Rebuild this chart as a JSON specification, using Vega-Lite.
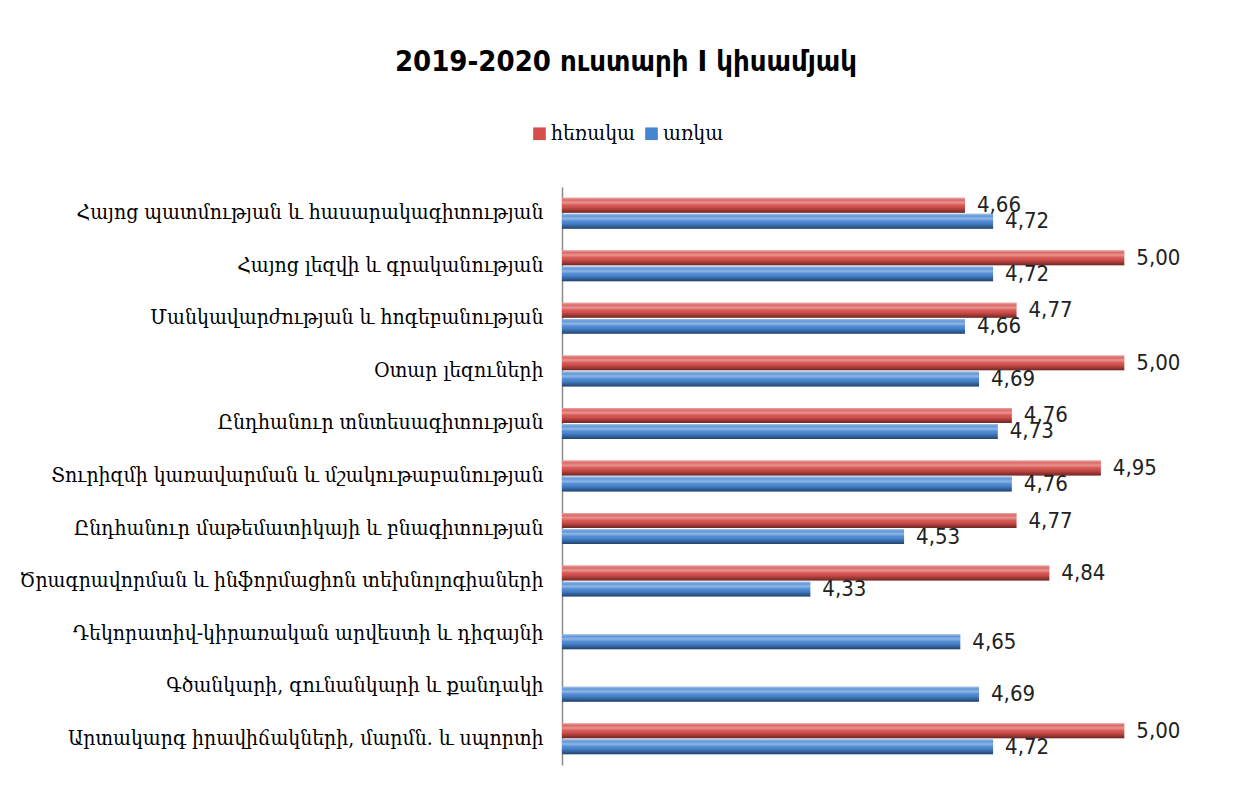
{
  "$schema": "https://vega.github.io/schema/vega-lite/v6.json",
  "width": 656,
  "height": 578,
  "autosize": {"type": "none"},
  "padding": {"left": 562, "top": 187, "right": 22, "bottom": 21},
  "background": "white",
  "title": {
    "text": "2019-2020 ուստարի I կիսամյակ",
    "font": "DejaVu Sans Condensed",
    "fontSize": 29,
    "fontWeight": "bold",
    "color": "black",
    "anchor": "middle",
    "dx": -264,
    "offset": 46
  },
  "data": {
    "values": [
      {"subject": "Հայոց պատմության և հասարակագիտության", "type": "հեռակա", "value": 4.66},
      {"subject": "Հայոց պատմության և հասարակագիտության", "type": "առկա", "value": 4.72},
      {"subject": "Հայոց լեզվի և գրականության ", "type": "հեռակա", "value": 5.00},
      {"subject": "Հայոց լեզվի և գրականության ", "type": "առկա", "value": 4.72},
      {"subject": "Մանկավարժության և հոգեբանության", "type": "հեռակա", "value": 4.77},
      {"subject": "Մանկավարժության և հոգեբանության", "type": "առկա", "value": 4.66},
      {"subject": "Օտար լեզուների", "type": "հեռակա", "value": 5.00},
      {"subject": "Օտար լեզուների", "type": "առկա", "value": 4.69},
      {"subject": "Ընդհանուր տնտեսագիտության", "type": "հեռակա", "value": 4.76},
      {"subject": "Ընդհանուր տնտեսագիտության", "type": "առկա", "value": 4.73},
      {"subject": "Տուրիզմի կառավարման և մշակութաբանության", "type": "հեռակա", "value": 4.95},
      {"subject": "Տուրիզմի կառավարման և մշակութաբանության", "type": "առկա", "value": 4.76},
      {"subject": "Ընդհանուր մաթեմատիկայի և բնագիտության", "type": "հեռակա", "value": 4.77},
      {"subject": "Ընդհանուր մաթեմատիկայի և բնագիտության", "type": "առկա", "value": 4.53},
      {"subject": "Ծրագրավորման և ինֆորմացիոն տեխնոլոգիաների", "type": "հեռակա", "value": 4.84},
      {"subject": "Ծրագրավորման և ինֆորմացիոն տեխնոլոգիաների", "type": "առկա", "value": 4.33},
      {"subject": "Դեկորատիվ-կիրառական արվեստի և դիզայնի", "type": "առկա", "value": 4.65},
      {"subject": "Գծանկարի, գունանկարի և քանդակի", "type": "առկա", "value": 4.69},
      {"subject": "Արտակարգ իրավիճակների, մարմն. և սպորտի", "type": "հեռակա", "value": 5.00},
      {"subject": "Արտակարգ իրավիճակների, մարմն. և սպորտի", "type": "առկա", "value": 4.72}
    ]
  },
  "encoding": {
    "y": {
      "field": "subject",
      "type": "nominal",
      "sort": null,
      "scale": {"paddingInner": 0.41, "paddingOuter": 0.205},
      "axis": {
        "title": null,
        "ticks": false,
        "domain": true,
        "domainColor": "#8c8c8c",
        "domainWidth": 1.5,
        "labelFont": "DejaVu Serif Condensed",
        "labelFontSize": 21,
        "labelColor": "black",
        "labelPadding": 19,
        "labelLimit": 700
      }
    },
    "yOffset": {
      "field": "type",
      "type": "nominal",
      "sort": ["հեռակա", "առկա"],
      "scale": {"paddingInner": 0.07}
    },
    "x": {
      "field": "value",
      "type": "quantitative",
      "scale": {"domain": [3.8, 5.2], "zero": false, "nice": false},
      "axis": null
    }
  },
  "layer": [
    {
      "mark": {"type": "bar"},
      "encoding": {
        "x2": {"datum": 3.8},
        "color": {
          "field": "type",
          "type": "nominal",
          "scale": {"domain": ["հեռակա", "առկա"], "range": ["#D64E4A", "#4685D2"]},
          "legend": {
            "orient": "none",
            "legendX": -33,
            "legendY": -64,
            "direction": "horizontal",
            "title": null,
            "symbolType": "square",
            "symbolSize": 160,
            "labelFont": "DejaVu Serif Condensed",
            "labelFontSize": 21,
            "labelColor": "black",
            "columnPadding": 6,
            "labelOffset": 1
          }
        }
      }
    },
    {
      "mark": {
        "type": "bar",
        "fill": {
          "gradient": "linear",
          "x1": 0, "y1": 0, "x2": 0, "y2": 1,
          "stops": [
            {"offset": 0, "color": "rgba(255,255,255,0.5)"},
            {"offset": 0.15, "color": "rgba(255,255,255,0.15)"},
            {"offset": 0.32, "color": "rgba(255,255,255,0.4)"},
            {"offset": 0.5, "color": "rgba(255,255,255,0.05)"},
            {"offset": 0.7, "color": "rgba(0,0,0,0.1)"},
            {"offset": 1, "color": "rgba(0,0,0,0.5)"}
          ]
        }
      },
      "encoding": {
        "x2": {"datum": 3.8}
      }
    },
    {
      "mark": {
        "type": "text",
        "align": "left",
        "baseline": "middle",
        "dx": 12,
        "font": "DejaVu Sans Condensed",
        "fontSize": 22,
        "color": "#222222"
      },
      "encoding": {
        "text": {"field": "value", "type": "quantitative", "format": ".2f"}
      }
    }
  ],
  "config": {
    "view": {"stroke": null},
    "locale": {
      "number": {"decimal": ",", "thousands": " ", "grouping": [3], "currency": ["", ""]}
    }
  }
}
